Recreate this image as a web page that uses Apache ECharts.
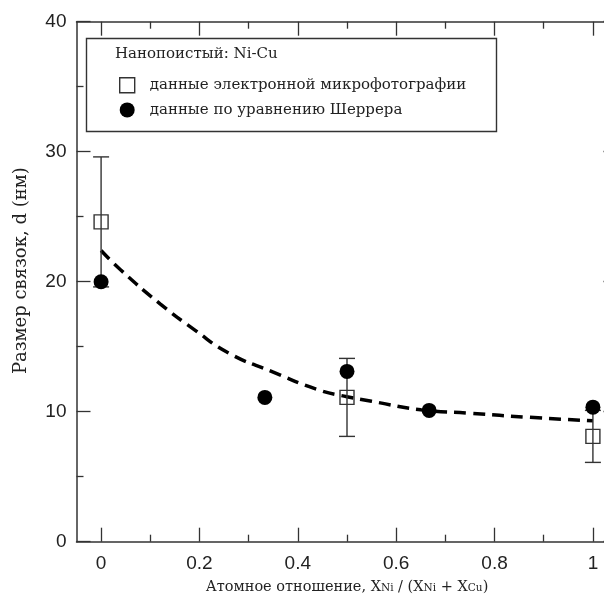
<!DOCTYPE html>
<html>
<head>
<meta charset="utf-8">
<script src="https://cdn.jsdelivr.net/npm/echarts@6/dist/echarts.min.js"></script>
<style>
  html, body { margin: 0; padding: 0; background: #fff; }
  #chart { width: 604px; height: 597px; }
</style>
</head>
<body>
<div id="chart"></div>
<script>
// данные электронной микрофотографии (квадраты) с погрешностями
var semX = [0, 0.5, 1];
var semY = [24.6, 11.1, 8.1];
var semLow = [19.6, 8.1, 6.1];
var semHigh = [29.6, 14.1, 10.1];

// данные по уравнению Шеррера (кружки)
var xrdX = [0, 0.333, 0.5, 0.667, 1];
var xrdY = [20.0, 11.1, 13.1, 10.1, 10.35];

// пунктирная кривая
var fitX = [0, 0.04, 0.12, 0.19, 0.26, 0.35, 0.44, 0.5, 0.55, 0.65, 0.75, 0.87, 1.0];
var fitY = [22.4, 20.9, 18.3, 16.3, 14.5, 13.05, 11.7, 11.15, 10.8, 10.15, 9.88, 9.57, 9.3];

var xMajor = [0, 0.2, 0.4, 0.6, 0.8, 1];
var xMinor = [0.1, 0.3, 0.5, 0.7, 0.9];

var SERIF = "'DejaVu Serif', 'Liberation Serif', serif";
var SANS = "'Liberation Sans', Arial, sans-serif";
var AXIS = '#333';

function zip(a, b) {
  return a.map(function (v, i) { return [v, b[i]]; });
}

var chart = echarts.init(document.getElementById('chart'));

function xAxisBase(pos, ticks, len, showLine) {
  return {
    type: 'value',
    position: pos,
    min: -0.05,
    max: 1.05,
    axisLine: { show: showLine, onZero: false, lineStyle: { color: AXIS, width: 1.5 } },
    axisTick: { show: true, inside: true, length: len, customValues: ticks, lineStyle: { color: AXIS, width: 1.3 } },
    axisLabel: { show: false },
    splitLine: { show: false }
  };
}

var xBottom = xAxisBase('bottom', xMajor, 14, true);
xBottom.axisLabel = {
  show: true,
  customValues: xMajor,
  margin: 13,
  fontFamily: SANS,
  fontSize: 19,
  color: '#222',
  formatter: function (v) { return String(+v.toFixed(1)); }
};
xBottom.name = 'Атомное отношение, X{s|Ni} / (X{s|Ni} + X{s|Cu})';
xBottom.nameLocation = 'middle';
xBottom.nameGap = 38;
xBottom.nameMoveOverlap = false;
xBottom.nameTextStyle = {
  fontFamily: SERIF,
  fontSize: 14.5,
  color: '#222',
  rich: { s: { fontFamily: SERIF, fontSize: 10.5, color: '#222', padding: [3, 0, 0, 0] } }
};

function yAxisBase(pos) {
  return {
    type: 'value',
    position: pos,
    min: 0,
    max: 40,
    interval: 10,
    axisLine: { show: true, onZero: false, lineStyle: { color: AXIS, width: 1.5 } },
    axisTick: { show: true, inside: true, length: 14, lineStyle: { color: AXIS, width: 1.3 } },
    minorTick: { show: true, splitNumber: 2, length: 7, lineStyle: { color: AXIS, width: 1.3 } },
    axisLabel: { show: false },
    splitLine: { show: false }
  };
}

var yLeft = yAxisBase('left');
yLeft.axisLabel = { show: true, margin: 10, fontFamily: SANS, fontSize: 19, color: '#222' };
yLeft.name = 'Размер связок, d (нм)';
yLeft.nameLocation = 'middle';
yLeft.nameRotate = 90;
yLeft.nameGap = 46;
yLeft.nameMoveOverlap = false;
yLeft.nameTextStyle = { fontFamily: SERIF, fontSize: 18, color: '#222', padding: [0, 0, 0, 22] };

var option = {
  backgroundColor: '#fff',
  animation: false,
  grid: { left: 76.5, right: -13.5, top: 21.7, bottom: 55.3, outerBoundsMode: 'none' },
  xAxis: [
    xBottom,
    xAxisBase('bottom', xMinor, 7, false),
    xAxisBase('top', xMajor, 14, true),
    xAxisBase('top', xMinor, 7, false)
  ],
  yAxis: [yLeft, yAxisBase('right')],
  legend: {
    orient: 'vertical',
    left: 114,
    top: 72,
    itemWidth: 15,
    itemHeight: 15,
    itemGap: 9,
    z: 10,
    textStyle: { fontFamily: SERIF, fontSize: 15, color: '#222', padding: [0, 0, 0, 10] },
    data: [
      { name: 'данные электронной микрофотографии', icon: 'rect',
        itemStyle: { color: '#fff', borderColor: AXIS, borderWidth: 1.4, opacity: 1 } },
      { name: 'данные по уравнению Шеррера', icon: 'circle',
        itemStyle: { color: '#000', opacity: 1 } }
    ]
  },
  graphic: [
    {
      type: 'rect', z: 5,
      shape: { x: 86.5, y: 38.5, width: 410, height: 93 },
      style: { fill: '#fff', stroke: AXIS, lineWidth: 1.4 }
    },
    {
      type: 'text', z: 6, left: 115, top: 47,
      style: { text: 'Нанопоистый: Ni-Cu', font: '15px ' + SERIF, fill: '#222' }
    }
  ],
  series: [
    {
      name: 'fit',
      type: 'line',
      smooth: true,
      showSymbol: false,
      silent: true,
      z: 1,
      data: zip(fitX, fitY),
      lineStyle: { color: '#000', width: 3.5, type: [12, 7] }
    },
    {
      name: 'errors',
      type: 'custom',
      z: 2,
      silent: true,
      data: semX.map(function (x, i) { return [x, semLow[i], semHigh[i]]; }),
      renderItem: function (params, api) {
        var lo = api.coord([api.value(0), api.value(1)]);
        var hi = api.coord([api.value(0), api.value(2)]);
        var cap = 8;
        var st = { stroke: AXIS, lineWidth: 1.4 };
        return {
          type: 'group',
          children: [
            { type: 'line', shape: { x1: lo[0], y1: lo[1], x2: hi[0], y2: hi[1] }, style: st },
            { type: 'line', shape: { x1: lo[0] - cap, y1: lo[1], x2: lo[0] + cap, y2: lo[1] }, style: st },
            { type: 'line', shape: { x1: hi[0] - cap, y1: hi[1], x2: hi[0] + cap, y2: hi[1] }, style: st }
          ]
        };
      }
    },
    {
      name: 'данные электронной микрофотографии',
      type: 'scatter',
      symbol: 'rect',
      symbolSize: 14,
      z: 3,
      data: zip(semX, semY),
      itemStyle: { color: 'rgba(255,255,255,0)', borderColor: AXIS, borderWidth: 1.4, opacity: 1 }
    },
    {
      name: 'данные по уравнению Шеррера',
      type: 'scatter',
      symbol: 'circle',
      symbolSize: 15,
      z: 4,
      data: zip(xrdX, xrdY),
      itemStyle: { color: '#000', opacity: 1 }
    }
  ]
};

chart.setOption(option);
</script>
</body>
</html>
